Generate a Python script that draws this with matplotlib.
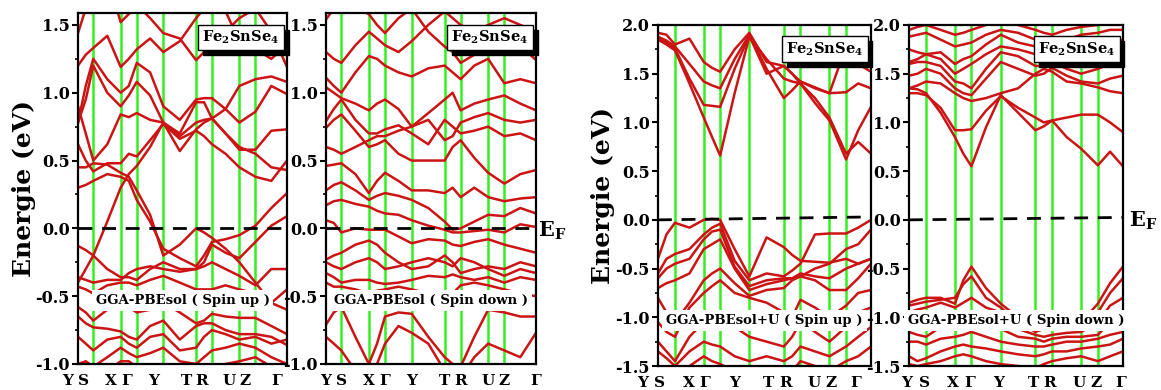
import numpy as np
import matplotlib.pyplot as plt
from matplotlib.transforms import ScaledTranslation
from matplotlib.ticker import MultipleLocator
from matplotlib.patches import Shadow

plt.rcParams['font.family'] = 'DejaVu Serif'
plt.rcParams['font.weight'] = 'bold'
plt.rcParams['mathtext.fontset'] = 'dejavuserif'

# chemin dans la zone de Brillouin
k_labels = ['Y', 'S', 'X', 'Γ', 'Y', 'T', 'R', 'U', 'Z', 'Γ']
nodes_gga = [0, .073, .204, .281, .408, .565, .641, .772, .849, 1.0]
nodes_ggau = [0, .08, .215, .292, .429, .591, .669, .805, .883, 1.0]
k_gga = [0, .037, .073, .14, .204, .243, .281, .345, .408, .487, .565, .603, .641, .706, .772, .849, .925, 1.0]
k_ggau = [0, .04, .08, .148, .215, .254, .292, .36, .429, .51, .591, .63, .669, .737, .805, .883, .94, 1.0]

# GGA-PBEsol spin up (eV)
gga_up = [
    [1.44, 1.62, 1.80, 1.85, 1.52, 1.58, 1.65, 1.55, 1.44, 1.40, 1.24, 1.30, 1.34, 1.45, 1.55, 1.62, 1.45, 1.19],
    [1.20, 1.28, 1.33, 1.42, 1.19, 1.25, 1.32, 1.40, 1.30, 1.38, 1.55, 1.62, 1.70, 1.60, 1.38, 1.32, 1.25, 1.35],
    [0.78, 1.05, 1.25, 1.10, 1.00, 1.05, 1.22, 1.15, 0.90, 0.80, 0.95, 0.96, 0.96, 0.88, 0.78, 0.86, 1.05, 0.99],
    [0.78, 0.95, 1.20, 1.00, 0.90, 0.98, 1.08, 0.98, 0.78, 0.70, 0.93, 0.93, 0.81, 0.88, 1.05, 1.10, 1.12, 1.08],
    [0.90, 0.70, 0.50, 0.62, 0.84, 0.82, 0.85, 0.80, 0.78, 0.57, 0.73, 0.78, 0.81, 0.70, 0.58, 0.58, 0.72, 0.73],
    [0.62, 0.50, 0.42, 0.48, 0.48, 0.55, 0.53, 0.65, 0.77, 0.66, 0.72, 0.68, 0.62, 0.55, 0.45, 0.38, 0.35, 0.50],
    [0.45, 0.45, 0.48, 0.47, 0.41, 0.38, 0.28, 0.10, -0.20, -0.12, 0.00, -0.03, -0.07, -0.15, -0.25, -0.40, -0.55, -0.45],
    [0.30, 0.32, 0.35, 0.40, 0.38, 0.35, 0.21, 0.05, -0.15, -0.22, -0.28, -0.20, -0.10, -0.08, -0.05, 0.02, 0.15, 0.26],
    [-0.40, -0.30, -0.20, 0.05, 0.30, 0.40, 0.46, 0.60, 0.78, 0.68, 0.78, 0.80, 0.81, 0.70, 0.60, 0.55, 0.45, 0.43],
    [-0.13, -0.16, -0.20, -0.30, -0.36, -0.36, -0.38, -0.30, -0.25, -0.30, -0.30, -0.25, -0.12, -0.18, -0.22, -0.10, 0.02, 0.09],
    [-0.36, -0.38, -0.40, -0.38, -0.38, -0.33, -0.30, -0.28, -0.30, -0.32, -0.30, -0.28, -0.25, -0.30, -0.35, -0.42, -0.30, -0.30],
    [-0.43, -0.45, -0.48, -0.42, -0.40, -0.40, -0.42, -0.38, -0.35, -0.40, -0.45, -0.45, -0.45, -0.42, -0.45, -0.48, -0.55, -0.60],
    [-0.58, -0.62, -0.68, -0.60, -0.55, -0.58, -0.62, -0.60, -0.55, -0.62, -0.70, -0.68, -0.63, -0.65, -0.66, -0.66, -0.72, -0.78],
    [-0.65, -0.70, -0.73, -0.74, -0.76, -0.80, -0.82, -0.72, -0.68, -0.82, -0.72, -0.70, -0.70, -0.75, -0.78, -0.78, -0.80, -0.86],
    [-0.80, -0.85, -0.90, -0.82, -0.80, -0.85, -0.88, -0.80, -0.78, -0.90, -0.88, -0.80, -0.75, -0.78, -0.82, -0.80, -0.85, -0.82],
    [-1.00, -0.98, -1.02, -0.95, -0.88, -0.92, -0.95, -0.92, -0.88, -0.98, -1.00, -0.95, -0.90, -0.88, -0.85, -0.88, -0.95, -1.00],
    [-1.10, -1.05, -1.08, -1.05, -0.98, -0.98, -1.02, -1.05, -1.00, -1.10, -1.10, -1.05, -1.02, -1.00, -0.98, -0.95, -1.02, -1.05],
]

# GGA-PBEsol spin down
gga_dn = [
    [1.54, 1.62, 1.70, 1.62, 1.58, 1.50, 1.44, 1.55, 1.62, 1.45, 1.34, 1.30, 1.22, 1.28, 1.32, 1.45, 1.35, 1.24],
    [1.30, 1.25, 1.22, 1.35, 1.45, 1.40, 1.35, 1.30, 1.38, 1.50, 1.60, 1.55, 1.50, 1.45, 1.50, 1.55, 1.50, 1.45],
    [1.11, 1.05, 1.00, 1.15, 1.27, 1.25, 1.20, 1.15, 1.12, 1.18, 1.20, 1.15, 1.10, 1.20, 1.25, 1.07, 1.10, 1.07],
    [1.04, 1.00, 0.96, 0.92, 0.87, 0.92, 0.95, 0.88, 0.75, 0.85, 0.95, 1.00, 0.87, 0.92, 0.95, 0.98, 0.92, 0.87],
    [0.79, 0.88, 0.95, 0.80, 0.70, 0.70, 0.73, 0.76, 0.70, 0.62, 0.80, 0.75, 0.70, 0.72, 0.75, 0.68, 0.70, 0.65],
    [0.60, 0.58, 0.55, 0.60, 0.65, 0.68, 0.68, 0.72, 0.75, 0.80, 0.65, 0.68, 0.78, 0.82, 0.85, 0.80, 0.78, 0.80],
    [0.74, 0.80, 0.84, 0.72, 0.60, 0.62, 0.65, 0.55, 0.50, 0.50, 0.50, 0.60, 0.65, 0.52, 0.41, 0.33, 0.40, 0.43],
    [0.46, 0.47, 0.48, 0.40, 0.26, 0.35, 0.41, 0.35, 0.28, 0.28, 0.26, 0.30, 0.23, 0.30, 0.23, 0.20, 0.22, 0.23],
    [0.28, 0.32, 0.34, 0.28, 0.21, 0.24, 0.26, 0.24, 0.21, 0.15, 0.05, -0.01, 0.00, 0.05, 0.10, 0.09, 0.15, 0.11],
    [0.17, 0.20, 0.21, 0.18, 0.16, 0.13, 0.11, 0.10, 0.06, 0.02, -0.01, -0.03, -0.03, -0.02, -0.01, -0.03, 0.03, 0.01],
    [0.06, 0.04, -0.03, 0.00, -0.01, -0.01, -0.01, -0.06, -0.11, -0.08, -0.09, -0.12, -0.13, -0.10, -0.08, -0.12, -0.15, -0.18],
    [-0.23, -0.20, -0.18, -0.12, -0.09, -0.12, -0.18, -0.25, -0.30, -0.28, -0.20, -0.25, -0.33, -0.30, -0.28, -0.30, -0.25, -0.28],
    [-0.25, -0.28, -0.30, -0.25, -0.22, -0.25, -0.30, -0.28, -0.25, -0.22, -0.25, -0.28, -0.22, -0.25, -0.30, -0.35, -0.30, -0.33],
    [-0.33, -0.36, -0.40, -0.38, -0.38, -0.40, -0.41, -0.40, -0.38, -0.35, -0.36, -0.34, -0.36, -0.38, -0.36, -0.40, -0.36, -0.38],
    [-0.40, -0.43, -0.43, -0.45, -0.48, -0.46, -0.45, -0.43, -0.45, -0.48, -0.53, -0.48, -0.42, -0.40, -0.42, -0.45, -0.48, -0.50],
    [-0.71, -0.62, -0.58, -0.80, -1.00, -0.85, -0.65, -0.62, -0.63, -0.80, -0.95, -1.00, -1.02, -0.80, -0.60, -0.62, -0.65, -0.65],
    [-0.80, -0.85, -0.90, -1.05, -1.10, -1.00, -0.85, -0.72, -0.77, -0.85, -1.05, -1.10, -1.10, -0.95, -0.85, -0.90, -0.95, -0.77],
]

# GGA-PBEsol+U spin up
ggau_up = [
    [1.92, 1.90, 1.80, 1.86, 1.62, 1.56, 1.52, 1.75, 1.92, 1.62, 1.58, 1.50, 1.42, 1.36, 1.30, 1.78, 1.60, 1.52],
    [1.88, 1.84, 1.78, 1.60, 1.42, 1.38, 1.35, 1.65, 1.90, 1.55, 1.25, 1.33, 1.42, 1.35, 1.30, 1.31, 1.40, 1.35],
    [1.86, 1.82, 1.76, 1.45, 1.18, 1.17, 1.16, 1.55, 1.89, 1.50, 1.58, 1.50, 1.40, 1.20, 1.02, 0.62, 0.92, 1.16],
    [1.85, 1.80, 1.74, 1.40, 1.05, 0.85, 0.66, 1.30, 1.88, 1.65, 1.45, 1.42, 1.40, 1.25, 1.05, 0.68, 0.80, 0.68],
    [-0.40, -0.15, -0.03, -0.08, 0.00, 0.01, 0.00, -0.30, -0.58, -0.18, -0.28, -0.36, -0.42, -0.43, -0.44, -0.40, -0.45, -0.40],
    [-0.55, -0.40, -0.35, -0.30, -0.15, -0.08, -0.04, -0.42, -0.62, -0.55, -0.58, -0.52, -0.45, -0.15, -0.14, -0.14, -0.08, 0.00],
    [-0.60, -0.50, -0.45, -0.40, -0.20, -0.12, -0.10, -0.48, -0.68, -0.62, -0.60, -0.60, -0.58, -0.50, -0.45, -0.30, -0.25, -0.10],
    [-0.70, -0.65, -0.62, -0.55, -0.30, -0.25, -0.20, -0.50, -0.72, -0.66, -0.62, -0.60, -0.55, -0.58, -0.60, -0.50, -0.45, -0.40],
    [-0.80, -0.95, -1.05, -0.85, -0.62, -0.55, -0.50, -0.65, -0.78, -0.72, -0.70, -0.62, -0.58, -0.62, -0.72, -0.72, -0.60, -0.45],
    [-1.05, -1.15, -1.20, -0.90, -0.75, -0.68, -0.62, -0.75, -0.80, -0.85, -0.95, -1.00, -0.82, -0.90, -1.00, -0.88, -0.75, -0.72],
    [-1.25, -1.35, -1.45, -1.20, -1.05, -1.00, -0.95, -1.10, -1.20, -1.25, -1.30, -1.20, -1.05, -1.15, -1.25, -1.10, -0.95, -0.90],
    [-1.35, -1.42, -1.50, -1.35, -1.25, -1.28, -1.30, -1.40, -1.45, -1.40, -1.45, -1.40, -1.30, -1.35, -1.40, -1.30, -1.20, -1.10],
    [-1.50, -1.55, -1.60, -1.50, -1.40, -1.45, -1.48, -1.55, -1.60, -1.55, -1.55, -1.55, -1.45, -1.50, -1.55, -1.45, -1.40, -1.30],
]

# GGA-PBEsol+U spin down
ggau_dn = [
    [1.35, 1.34, 1.30, 1.10, 0.85, 0.68, 0.55, 0.95, 1.28, 1.10, 0.92, 0.96, 1.02, 0.85, 0.73, 0.56, 0.70, 0.55],
    [1.30, 1.30, 1.28, 1.15, 0.92, 0.92, 0.93, 1.12, 1.27, 1.15, 1.05, 1.00, 1.02, 1.05, 1.08, 1.08, 1.00, 0.90],
    [1.35, 1.38, 1.42, 1.40, 1.30, 1.25, 1.22, 1.25, 1.30, 1.35, 1.50, 1.55, 1.52, 1.42, 1.40, 1.36, 1.32, 1.30],
    [1.48, 1.50, 1.55, 1.50, 1.35, 1.30, 1.28, 1.45, 1.62, 1.55, 1.48, 1.50, 1.56, 1.48, 1.42, 1.40, 1.45, 1.48],
    [1.60, 1.62, 1.62, 1.58, 1.42, 1.40, 1.35, 1.55, 1.72, 1.68, 1.58, 1.58, 1.62, 1.55, 1.50, 1.55, 1.60, 1.62],
    [1.62, 1.65, 1.70, 1.65, 1.50, 1.55, 1.60, 1.70, 1.78, 1.75, 1.70, 1.65, 1.58, 1.60, 1.62, 1.68, 1.70, 1.72],
    [1.75, 1.72, 1.70, 1.72, 1.60, 1.65, 1.68, 1.80, 1.90, 1.82, 1.78, 1.75, 1.70, 1.72, 1.75, 1.78, 1.82, 1.85],
    [1.88, 1.90, 1.92, 1.85, 1.78, 1.80, 1.82, 1.90, 1.95, 1.92, 1.85, 1.82, 1.80, 1.85, 1.90, 1.92, 1.95, 1.95],
    [1.95, 1.98, 2.00, 1.95, 1.90, 1.92, 1.95, 2.00, 2.05, 2.00, 1.95, 1.92, 1.90, 1.95, 1.98, 2.00, 2.02, 2.05],
    [-0.85, -0.82, -0.80, -0.80, -0.86, -0.62, -0.48, -0.70, -0.86, -1.00, -1.10, -1.10, -1.08, -1.10, -1.05, -0.86, -0.65, -0.48],
    [-0.88, -0.86, -0.84, -0.82, -0.80, -0.66, -0.58, -0.80, -0.90, -1.05, -1.15, -1.12, -1.10, -1.12, -1.08, -0.95, -0.75, -0.60],
    [-0.95, -0.92, -0.90, -0.85, -0.90, -0.85, -0.80, -0.90, -0.95, -1.12, -1.18, -1.20, -1.18, -1.16, -1.15, -1.05, -0.88, -0.80],
    [-1.15, -1.18, -1.20, -1.10, -1.02, -1.00, -1.02, -1.08, -1.12, -1.20, -1.22, -1.25, -1.22, -1.20, -1.20, -1.18, -1.05, -1.00],
    [-1.25, -1.25, -1.28, -1.22, -1.20, -1.18, -1.15, -1.20, -1.25, -1.28, -1.30, -1.30, -1.28, -1.25, -1.25, -1.22, -1.18, -1.15],
    [-1.40, -1.45, -1.42, -1.35, -1.30, -1.28, -1.30, -1.32, -1.35, -1.38, -1.40, -1.38, -1.35, -1.35, -1.32, -1.30, -1.28, -1.22],
    [-1.48, -1.50, -1.48, -1.45, -1.40, -1.38, -1.40, -1.45, -1.48, -1.50, -1.52, -1.48, -1.45, -1.42, -1.40, -1.45, -1.40, -1.35],
]

rouge = '#cc1414'
vert = '#33f01e'

fig = plt.figure(figsize=(11.61, 3.90), dpi=100)
boites = []


def panneau(rect, k, bands, nodes, ylim, ef_tilt, titre, shift_px, ylabel=False):
    ax = fig.add_axes(rect)
    for b in bands:
        ax.plot(k, b, color=rouge, lw=1.8, solid_joinstyle='round', zorder=2)
    for x in nodes[1:-1]:
        ax.axvline(x, color=vert, lw=1.8, zorder=1)
    ax.plot([0, 1], [0, ef_tilt], color='black', lw=2, ls=(0, (5, 3.5)), zorder=3)
    ax.set_xlim(0, 1)
    ax.set_ylim(*ylim)
    ax.yaxis.set_major_locator(MultipleLocator(0.5))
    ax.yaxis.set_minor_locator(MultipleLocator(0.25))
    ax.yaxis.set_major_formatter(plt.FuncFormatter(lambda v, p: f'{v:.1f}'))
    ax.tick_params(axis='y', which='major', length=4, width=1.5, labelsize=11.5, pad=2)
    ax.tick_params(axis='y', which='minor', length=2.5, width=1.2)
    ax.set_xticks(nodes)
    ax.set_xticklabels(k_labels)
    ax.tick_params(axis='x', length=0, labelsize=11, pad=7)
    off = ScaledTranslation(shift_px / 100, 0, fig.dpi_scale_trans)
    for lab in ax.get_xticklabels():
        lab.set_transform(lab.get_transform() + off)
    for s in ax.spines.values():
        s.set_linewidth(1.6)
    if ylabel:
        ax.set_ylabel('Energie (eV)', fontsize=18, fontweight='bold')
        ax.yaxis.set_label_coords(-0.2, 0.5)
    # boîte Fe2SnSe4 (ombre ajoutée après le rendu)
    t = ax.text(0.965, 0.955, r'$\mathbf{Fe_2SnSe_4}$', transform=ax.transAxes, ha='right', va='top',
                fontsize=10.5, zorder=6,
                bbox=dict(boxstyle='square,pad=0.28', fc='white', ec='black', lw=1))
    boites.append((ax, t))
    ax.text(0.5, titre[1], titre[0], transform=ax.transAxes, ha='center', va='center',
            fontsize=9.5, zorder=6,
            bbox=dict(boxstyle='square,pad=0.3', fc='white', ec='none'))
    return ax


panneau([0.0672, 0.0667, 0.180, 0.900], k_gga, gga_up, nodes_gga, (-1.0, 1.588), 0.0,
        ('GGA-PBEsol ( Spin up )', 0.182), -10, ylabel=True)
panneau([0.2808, 0.0667, 0.1809, 0.900], k_gga, gga_dn, nodes_gga, (-1.0, 1.588), 0.0,
        ('GGA-PBEsol ( Spin down )', 0.182), 0)
panneau([0.5667, 0.0615, 0.1835, 0.8744], k_ggau, ggau_up, nodes_ggau, (-1.5, 2.0), 0.03,
        ('GGA-PBEsol+U ( Spin up )', 0.134), -15, ylabel=True)
panneau([0.7829, 0.0615, 0.1843, 0.8744], k_ggau, ggau_dn, nodes_ggau, (-1.5, 2.0), 0.025,
        ('GGA-PBEsol+U ( Spin down )', 0.134), -2)

fig.text(0.463, 0.408, r'$\mathbf{E_F}$', fontsize=15, ha='left', va='center')
fig.text(0.9725, 0.433, r'$\mathbf{E_F}$', fontsize=15, ha='left', va='center')

fig.canvas.draw()
for ax, t in boites:
    ombre = Shadow(t.get_bbox_patch(), 3.5, -3.5, facecolor='black', edgecolor='black', alpha=1)
    ombre.set_zorder(5)
    ombre.set_clip_on(False)
    ax.add_artist(ombre)

fig.savefig('out.png', dpi=100)
